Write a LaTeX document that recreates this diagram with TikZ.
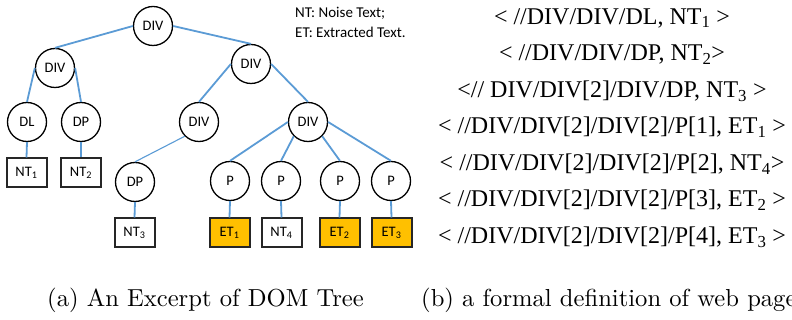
\documentclass[tikz,border=0pt]{standalone}
\usepackage{fontspec}
\setmainfont{Liberation Serif}
\newfontfamily\calib{Carlito}
\newfontfamily\capfont{lmroman10-regular.otf}
\definecolor{edgeblue}{RGB}{91,155,213}
\definecolor{etfill}{RGB}{255,192,0}

\tikzset{
  tag/.style={circle, draw=black, line width=1.3pt, minimum size=39pt, inner sep=0pt,
              font=\calib\fontsize{14.5}{16}\selectfont},
  txtbox/.style={rectangle, draw=black!85, line width=2pt, minimum width=40pt,
                 minimum height=29pt, inner sep=0pt, fill=white,
                 font=\calib\fontsize{14.5}{16}\selectfont},
  etbox/.style={txtbox, fill=etfill},
  link/.style={draw=edgeblue, line width=1.8pt},
  thinlink/.style={draw=edgeblue, line width=1.1pt},
  legend/.style={anchor=west, inner sep=0pt, font=\calib\fontsize{15}{18}\selectfont},
  xpathline/.style={inner sep=0pt, font=\fontsize{24}{28}\selectfont},
  caption/.style={anchor=west, inner sep=0pt, font=\capfont\fontsize{24.6}{30}\selectfont}
}

\begin{document}
\begin{tikzpicture}[x=1pt, y=-1pt]
  \useasboundingbox (0,0) rectangle (792,320);

  % tree tags
  \node[tag] (root)  at (153,26)  {DIV};
  \node[tag] (divl)  at (55,68)   {DIV};
  \node[tag] (divr)  at (251,64)  {DIV};
  \node[tag] (dl)    at (27,122)  {DL};
  \node[tag] (dp)    at (81,122)  {DP};
  \node[tag] (divtl) at (199,122) {DIV};
  \node[tag] (divtr) at (308,122) {DIV};
  \node[tag] (dpt)   at (135,182) {DP};
  \node[tag] (pa)    at (230,181) {P};
  \node[tag] (pb)    at (281,181) {P};
  \node[tag] (pc)    at (340,181) {P};
  \node[tag] (pd)    at (391,181) {P};

  % text leaves
  \node[txtbox] (nta) at (26.5,173)  {NT\textsubscript{1}};
  \node[txtbox] (ntb) at (81,173)    {NT\textsubscript{2}};
  \node[txtbox] (ntc) at (134.5,233) {NT\textsubscript{3}};
  \node[etbox]  (eta) at (229.5,233) {ET\textsubscript{1}};
  \node[txtbox] (ntd) at (281.5,233) {NT\textsubscript{4}};
  \node[etbox]  (etb) at (339.5,233) {ET\textsubscript{2}};
  \node[etbox]  (etc) at (391.5,233) {ET\textsubscript{3}};

  % tree edges
  \draw[link] (root.west) -- (divl.north);
  \draw[link] (root.east) -- (divr.north);
  \draw[link] (divl.west) -- (dl.north);
  \draw[link] (divl.east) -- (dp.north);
  \draw[link] (divr.west) -- (divtl.north);
  \draw[link] (divr.east) -- (divtr.north);
  \draw[thinlink] (divtl.south west) -- (dpt.north);
  \draw[link] (divtr.west) -- (pa.north);
  \draw[link] (divtr.south west) -- (pb.north);
  \draw[link] (divtr.south east) -- (pc.north);
  \draw[link] (divtr.east) -- (pd.north);
  \draw[link] (dl.south) -- (nta.north);
  \draw[link] (dp.south) -- (ntb.north);
  \draw[link] (dpt.south) -- (ntc.north);
  \draw[link] (pa.south) -- (eta.north);
  \draw[link] (pb.south) -- (ntd.north);
  \draw[link] (pc.south) -- (etb.north);
  \draw[link] (pd.south) -- (etc.north);

  % legend
  \node[legend] (lnt) at (295,13) {NT: Noise Text;};
  \node[legend] (let) at (295,32) {ET: Extracted Text.};

  % path / text pairs
  \node[xpathline] (xa) at (612,18)    {< //DIV/DIV/DL, NT\textsubscript{1} >};
  \node[xpathline] (xb) at (612,54.5)  {< //DIV/DIV/DP, NT\textsubscript{2}>};
  \node[xpathline] (xc) at (612,91)    {<// DIV/DIV[2]/DIV/DP, NT\textsubscript{3} >};
  \node[xpathline] (xd) at (612,127.5) {< //DIV/DIV[2]/DIV[2]/P[1], ET\textsubscript{1} >};
  \node[xpathline] (xe) at (612,164)   {< //DIV/DIV[2]/DIV[2]/P[2], NT\textsubscript{4}>};
  \node[xpathline] (xf) at (612,200.5) {< //DIV/DIV[2]/DIV[2]/P[3], ET\textsubscript{2} >};
  \node[xpathline] (xg) at (612,237)   {< //DIV/DIV[2]/DIV[2]/P[4], ET\textsubscript{3} >};

  % captions
  \node[caption] (capa) at (47,300)  {(a) An Excerpt of DOM Tree};
  \node[caption] (capb) at (421,300) {(b) a formal definition of web page};
\end{tikzpicture}
\end{document}
